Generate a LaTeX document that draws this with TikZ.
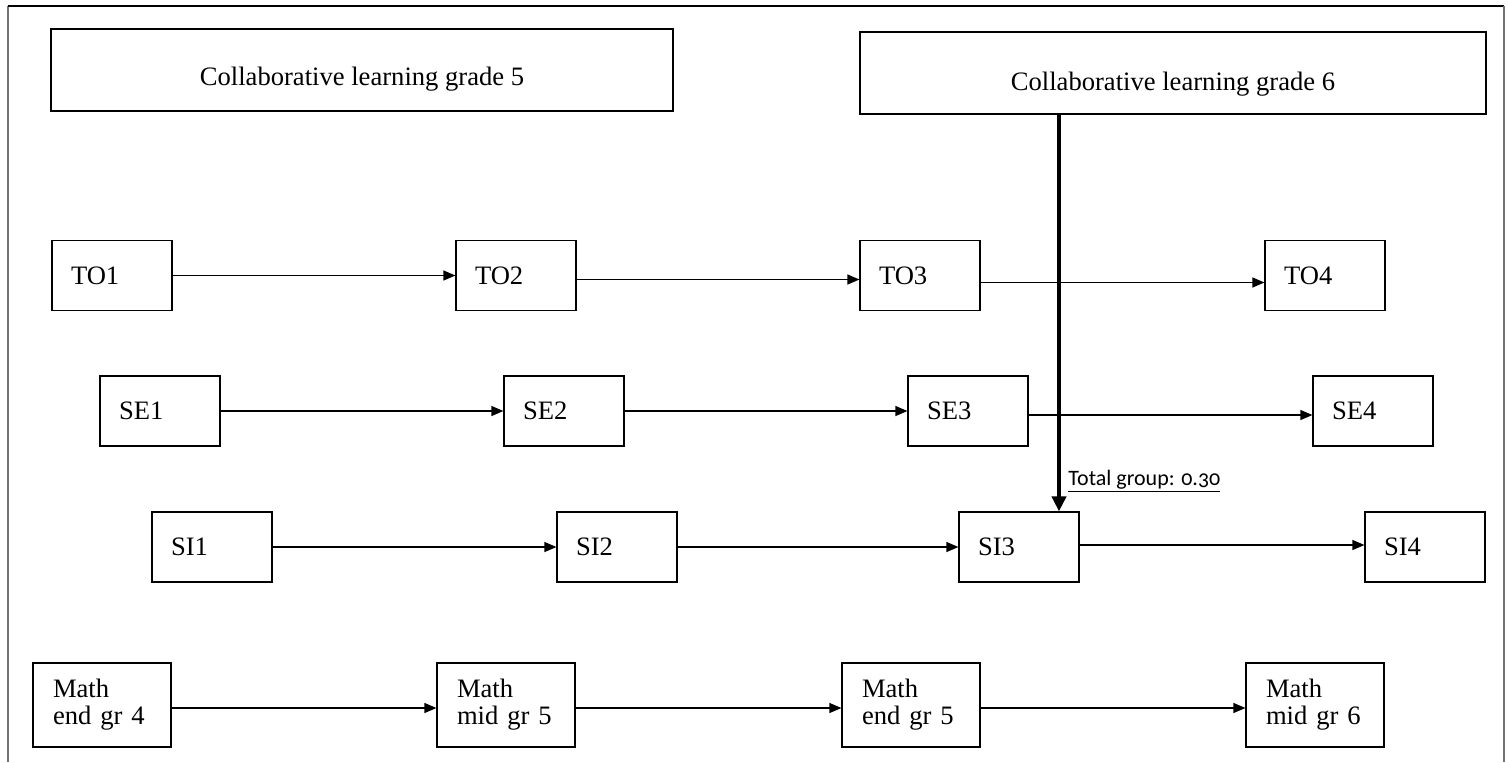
\documentclass[tikz,border=0pt]{standalone}
\usepackage{fontspec}
\setmainfont{Liberation Serif}
\newfontfamily\lblfont{Carlito}[Numbers=OldStyle]
\usetikzlibrary{arrows.meta}
\begin{document}
\begin{tikzpicture}[x=0.5pt,y=-0.5pt,
  every node/.style={font=\fontsize{13.3}{13.5}\selectfont},
  box/.style={draw, line width=0.6pt, minimum height=35pt, text width=41pt, inner xsep=9.5pt, inner ysep=0pt, align=left},
  mbox/.style={draw, line width=0.6pt, minimum height=42pt, text width=49pt, inner xsep=10pt, inner ysep=0pt, align=left},
  gbox/.style={draw, line width=0.6pt, minimum height=41pt, inner sep=0pt},
  arr/.style={-{Triangle[length=6pt,width=5pt]}, line width=0.6pt},
  bigarr/.style={-{Triangle[length=7.5pt,width=7pt]}, line width=2pt},
  side/.style={draw=black!55, line width=0.6pt}
]
\useasboundingbox (0,0) rectangle (1508,762);
% outer frame (no bottom edge)
\draw[side] (8,762) -- (8,6);
\draw[line width=0.6pt] (8,6) -- (1504,6);
\draw[side] (1504,6) -- (1504,762);

% header boxes
\node[gbox, minimum width=311pt, label={[yshift=-4.5pt]center:Collaborative learning grade 5}] (G5) at (362,70) {};
\node[gbox, minimum width=313pt, label={[yshift=-5.5pt]center:Collaborative learning grade 6}] (G6) at (1173,73) {};

% TO row
\node[box] (TO1) at (112,275.5) {TO1};
\node[box] (TO2) at (516,275.5) {TO2};
\node[box] (TO3) at (920,275.5) {TO3};
\node[box] (TO4) at (1325,275.5) {TO4};
% SE row
\node[box] (SE1) at (160,411) {SE1};
\node[box] (SE2) at (564,411) {SE2};
\node[box] (SE3) at (968,411) {SE3};
\node[box] (SE4) at (1373,411) {SE4};
% SI row
\node[box] (SI1) at (212,547) {SI1};
\node[box] (SI2) at (617,547) {SI2};
\node[box] (SI3) at (1019,547) {SI3};
\node[box] (SI4) at (1425,547) {SI4};
% Math row
\node[mbox] (M1) at (102,705) {Math\\end gr 4};
\node[mbox] (M2) at (506,705) {Math\\mid gr 5};
\node[mbox] (M3) at (911,705) {Math\\end gr 5};
\node[mbox] (M4) at (1315,705) {Math\\mid gr 6};

% arrows
\draw[arr] (TO1) -- (TO2);
\draw[arr] ([yshift=-2pt]TO2.east) -- ([yshift=-2pt]TO3.west);
\draw[arr] ([yshift=-3.5pt]TO3.east) -- ([yshift=-3.5pt]TO4.west);
\draw[arr] (SE1) -- (SE2);
\draw[arr] (SE2) -- (SE3);
\draw[arr] ([yshift=-2pt]SE3.east) -- ([yshift=-2pt]SE4.west);
\draw[arr] (SI1) -- (SI2);
\draw[arr] (SI2) -- (SI3);
\draw[arr] ([yshift=1pt]SI3.east) -- ([yshift=1pt]SI4.west);
\draw[arr] ([yshift=-1.5pt]M1.east) -- ([yshift=-1.5pt]M2.west);
\draw[arr] ([yshift=-1.5pt]M2.east) -- ([yshift=-1.5pt]M3.west);
\draw[arr] ([yshift=-1.5pt]M3.east) -- ([yshift=-1.5pt]M4.west);

% thick arrow from grade 6 to SI3
\coordinate (vx) at (1059,300);
\draw[bigarr] (G6.south -| vx) -- (SI3.north -| vx);
\node[anchor=base west, font=\lblfont\fontsize{11}{13}\selectfont, inner sep=0pt] (TG) at (1068,485) {\underline{Total group: 0.30}};
\end{tikzpicture}
\end{document}
